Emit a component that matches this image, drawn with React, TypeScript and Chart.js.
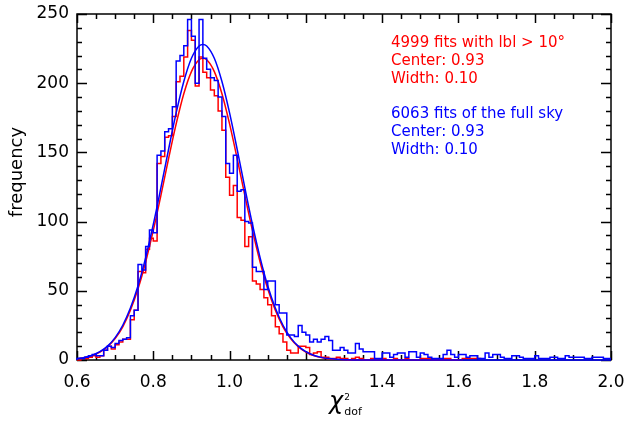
import React, { useEffect, useRef } from 'react';
import { Chart, registerables } from 'chart.js';

Chart.register(...registerables);

// Histogram bins: left edge of first bin and bin width
const binStart = 0.6;
const binWidth = 0.01;

// Full-sky histogram (6063 fits), bins 0.60 .. 1.99
const blueCounts = [
  0, 1, 1, 2, 3, 4, 3, 3, 7, 10,
  9, 12, 14, 15, 16, 32, 36, 69, 65, 82,
  94, 92, 148, 151, 165, 167, 183, 216, 220, 227,
  246, 234, 200, 246, 218, 210, 204, 202, 190, 176,
  142, 135, 148, 122, 123, 100, 99, 67, 64, 64,
  51, 57, 57, 40, 34, 34, 18, 18, 17, 25,
  20, 18, 13, 15, 13, 15, 17, 14, 7, 7,
  9, 7, 5, 5, 12, 8, 6, 6, 6, 1,
  1, 5, 5, 2, 4, 5, 5, 2, 6, 6,
  2, 5, 4, 2, 1, 1, 1, 4, 7, 4,
  2, 4, 4, 2, 3, 3, 1, 1, 5, 2,
  4, 4, 2, 1, 1, 3, 3, 2, 1, 1,
  1, 3, 1, 1, 1, 2, 2, 1, 1, 3,
  2, 2, 2, 2, 1, 1, 2, 2, 2, 1,
];

// |b| > 10 deg histogram (4999 fits), bins 0.60 .. 1.65
const redCounts = [
  0, 0, 1, 1, 2, 3, 2, 3, 7, 10,
  8, 11, 13, 15, 15, 29, 36, 64, 63, 80,
  88, 86, 142, 147, 161, 162, 176, 201, 205, 219,
  238, 231, 198, 219, 208, 204, 195, 191, 180, 166,
  132, 119, 126, 103, 101, 82, 89, 57, 55, 51,
  45, 40, 32, 24, 19, 13, 7, 5, 5, 10,
  10, 9, 4, 5, 6, 2, 2, 1, 1, 2,
  1, 1, 0, 1, 2, 1, 0, 0, 1, 0,
  0, 1, 0, 0, 1, 0, 0, 1, 0, 0,
  0, 1, 1, 1, 0, 0, 0, 1, 1, 0,
  0, 0, 1, 1, 1, 1,
];

// Fitted curves
const fitX = [
  0.6, 0.62, 0.64, 0.66, 0.68, 0.7, 0.72, 0.74, 0.76, 0.78,
  0.8, 0.82, 0.84, 0.86, 0.88, 0.9, 0.92, 0.93, 0.94, 0.96,
  0.98, 1.0, 1.02, 1.04, 1.06, 1.08, 1.1, 1.12, 1.14, 1.16,
  1.18, 1.2, 1.22, 1.24, 1.26, 1.28, 1.3, 1.35, 1.4, 1.5,
  1.6, 1.7, 1.8, 1.9, 2.0,
];
const blueFit = [
  1.0, 1.9, 3.4, 6.0, 10.0, 16.2, 25.1, 37.5, 53.7, 74.0,
  97.9, 124.5, 152.1, 178.5, 201.2, 218.0, 226.9, 228, 226.9, 218.0,
  201.2, 178.5, 152.1, 124.5, 97.9, 74.0, 53.7, 37.5, 25.1, 16.2,
  10.0, 6.0, 3.4, 1.9, 1.0, 0.5, 0.2, 0.05, 0, 0,
  0, 0, 0, 0, 0,
];
const redFit = [
  0.9, 1.8, 3.3, 5.7, 9.6, 15.5, 24.0, 35.9, 51.4, 70.8,
  93.6, 119.0, 145.4, 170.6, 192.4, 208.4, 216.9, 218, 216.9, 208.4,
  192.4, 170.6, 145.4, 119.0, 93.6, 70.8, 51.4, 35.9, 24.0, 15.5,
  9.6, 5.7, 3.3, 1.8, 0.9, 0.5, 0.2, 0.05, 0, 0,
  0,
];

const redLines = ['4999 fits with lbl > 10°', 'Center: 0.93', 'Width: 0.10'];
const blueLines = ['6063 fits of the full sky', 'Center: 0.93', 'Width: 0.10'];

const xMin = 0.6;
const xMax = 2.0;
const xMajor = 0.2;
const xMinor = 0.05;
const yMin = 0;
const yMax = 250;
const yMajor = 50;
const yMinor = 10;

const RED = '#ff0000';
const BLUE = '#0000ff';
const FONT = "'DejaVu Sans', sans-serif";

function stepPoints(counts: number[]) {
  const pts = counts.map((c, i) => ({ x: +(binStart + i * binWidth).toFixed(2), y: c }));
  pts.push({ x: +(binStart + counts.length * binWidth).toFixed(2), y: counts[counts.length - 1] });
  return pts;
}

function curvePoints(xs: number[], ys: number[]) {
  return ys.map((y, i) => ({ x: xs[i], y }));
}

const framePlugin = {
  id: 'idlFrame',
  beforeDatasetsDraw(chart: any) {
    const { ctx, chartArea: a, scales } = chart;
    const xs = scales.x;
    const ys = scales.y;
    ctx.save();
    ctx.strokeStyle = '#000';
    ctx.lineWidth = 1.5;
    ctx.strokeRect(a.left, a.top, a.right - a.left, a.bottom - a.top);
    ctx.beginPath();
    const nx = Math.round((xMax - xMin) / xMinor);
    const perMajorX = Math.round(xMajor / xMinor);
    for (let k = 0; k <= nx; k++) {
      const v = xMin + k * xMinor;
      const px = Math.round(xs.getPixelForValue(v)) + 0.5;
      const len = k % perMajorX === 0 ? 9 : 5;
      ctx.moveTo(px, a.bottom);
      ctx.lineTo(px, a.bottom - len);
      ctx.moveTo(px, a.top);
      ctx.lineTo(px, a.top + len);
    }
    const ny = Math.round((yMax - yMin) / yMinor);
    const perMajorY = Math.round(yMajor / yMinor);
    for (let k = 0; k <= ny; k++) {
      const v = yMin + k * yMinor;
      const py = Math.round(ys.getPixelForValue(v)) + 0.5;
      const len = k % perMajorY === 0 ? 10 : 5;
      ctx.moveTo(a.left, py);
      ctx.lineTo(a.left + len, py);
      ctx.moveTo(a.right, py);
      ctx.lineTo(a.right - len, py);
    }
    ctx.stroke();
    ctx.restore();
  },
  afterDraw(chart: any) {
    const { ctx } = chart;
    ctx.save();
    ctx.font = `15px ${FONT}`;
    ctx.textAlign = 'left';
    ctx.textBaseline = 'middle';
    ctx.fillStyle = RED;
    redLines.forEach((t, i) => ctx.fillText(t, 391, 43 + i * 18));
    ctx.fillStyle = BLUE;
    blueLines.forEach((t, i) => ctx.fillText(t, 391, 114 + i * 18));

    // y title
    ctx.fillStyle = '#000';
    ctx.save();
    ctx.translate(17, 172);
    ctx.rotate(-Math.PI / 2);
    ctx.textAlign = 'center';
    ctx.font = `18px ${FONT}`;
    ctx.fillText('frequency', 0, 0);
    ctx.restore();

    // x title: chi^2_dof
    ctx.textAlign = 'left';
    ctx.textBaseline = 'alphabetic';
    ctx.font = `italic 24px ${FONT}`;
    const chiX = 329;
    ctx.fillText('χ', chiX, 409);
    const w = ctx.measureText('χ').width;
    ctx.font = `9px ${FONT}`;
    ctx.fillText('2', chiX + w + 1, 400);
    ctx.font = `11px ${FONT}`;
    ctx.fillText('dof', chiX + w + 1, 415);
    ctx.restore();
  },
};

export default function App() {
  const ref = useRef<HTMLCanvasElement | null>(null);
  useEffect(() => {
    document.body.style.margin = '0';
    const canvas = ref.current;
    if (!canvas) return;
    const chart = new Chart(canvas, {
      type: 'line',
      data: {
        datasets: [
          {
            data: stepPoints(blueCounts),
            stepped: 'after',
            borderColor: BLUE,
            borderWidth: 1.5,
            pointRadius: 0,
            fill: false,
            clip: false,
          } as any,
          {
            data: curvePoints(fitX, blueFit),
            borderColor: BLUE,
            borderWidth: 1.5,
            pointRadius: 0,
            cubicInterpolationMode: 'monotone',
            fill: false,
            clip: false,
          },
          {
            data: stepPoints(redCounts),
            stepped: 'after',
            borderColor: RED,
            borderWidth: 1.5,
            pointRadius: 0,
            fill: false,
            clip: false,
          } as any,
          {
            data: curvePoints(fitX, redFit),
            borderColor: RED,
            borderWidth: 1.5,
            pointRadius: 0,
            cubicInterpolationMode: 'monotone',
            fill: false,
            clip: false,
          },
        ],
      },
      options: {
        animation: false,
        responsive: false,
        devicePixelRatio: 1,
        layout: { padding: { top: 14, right: 15, left: 0, bottom: 0 } },
        plugins: {
          legend: { display: false },
          tooltip: { enabled: false },
        },
        elements: { point: { radius: 0 } },
        scales: {
          x: {
            type: 'linear',
            min: xMin,
            max: xMax,
            ticks: {
              stepSize: xMajor,
              autoSkip: false,
              maxRotation: 0,
              color: '#000',
              padding: 12,
              font: { family: FONT, size: 17 },
              callback: (v: any) => Number(v).toFixed(1),
            },
            grid: { display: false, drawTicks: false },
            border: { display: false },
            afterFit: (s: any) => {
              s.height = 61;
              s.paddingLeft = 0;
              s.paddingRight = 0;
            },
          },
          y: {
            type: 'linear',
            min: yMin,
            max: yMax,
            ticks: {
              stepSize: yMajor,
              color: '#000',
              padding: 8,
              font: { family: FONT, size: 17 },
            },
            grid: { display: false, drawTicks: false },
            border: { display: false },
            afterFit: (s: any) => {
              s.width = 77;
              s.paddingTop = 0;
              s.paddingBottom = 0;
            },
          },
        },
      } as any,
      plugins: [framePlugin],
    });
    return () => chart.destroy();
  }, []);
  return (
    <canvas
      ref={ref}
      width={626}
      height={421}
      style={{ display: 'block', width: 626, height: 421 }}
    />
  );
}
